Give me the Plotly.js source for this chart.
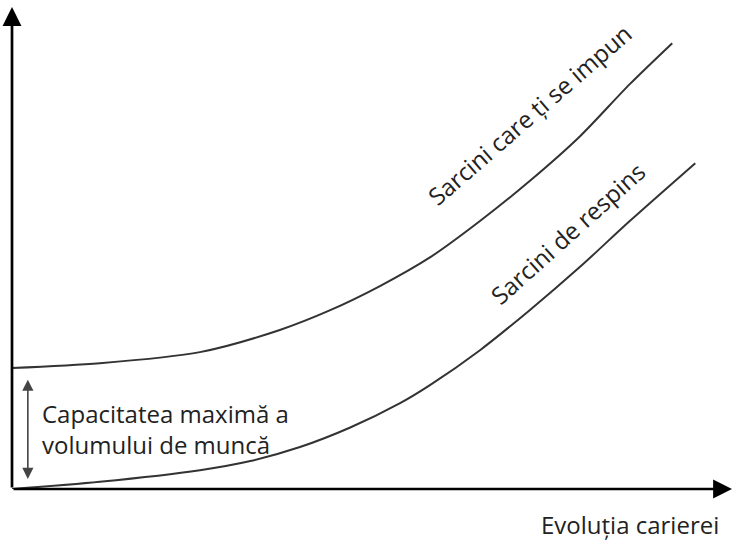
<!DOCTYPE html>
<html>
<head>
<meta charset="utf-8">
<script src="https://cdn.plot.ly/plotly-3.0.1.min.js"></script>
<style>html,body{margin:0;padding:0;background:#fff;}</style>
</head>
<body>
<div id="chart" style="width:733px;height:541px;"></div>
<script>
// Career evolution (x) vs. workload (y), arbitrary units 0-100
var upperX = [0, 12.2, 26.1, 37.2, 44.2, 51.1, 58.1, 65.0, 71.9, 78.9, 85.8, 91.7];
var upperY = [25.1, 26.1, 28.4, 33.0, 37.1, 42.1, 48.1, 55.6, 63.9, 73.2, 84.0, 92.5];
var lowerX = [0, 12.2, 26.1, 33.1, 40.0, 46.9, 53.9, 58.1, 65.0, 71.9, 78.9, 85.8, 94.9];
var lowerY = [0, 1.5, 3.9, 5.8, 8.7, 12.7, 17.8, 21.6, 28.8, 37.1, 46.1, 55.6, 67.6];
var upperLabel = "Sarcini care ți se impun";
var lowerLabel = "Sarcini de respins";
var capacityLabel = "Capacitatea maximă a<br>volumului de muncă";
var xLabel = "Evoluția carierei";

var FONT = '"Open Sans", "Noto Sans", sans-serif';
var lineStyle = {color: '#333333', width: 2, shape: 'spline', smoothing: 0.8};

var traces = [
  {x: upperX, y: upperY, mode: 'lines', line: lineStyle, hoverinfo: 'skip', name: upperLabel},
  {x: lowerX, y: lowerY, mode: 'lines', line: lineStyle, hoverinfo: 'skip', name: lowerLabel}
];

var layout = {
  width: 733, height: 541,
  margin: {l: 12, r: 1, t: 7, b: 52, pad: 0},
  paper_bgcolor: '#ffffff', plot_bgcolor: '#ffffff',
  showlegend: false,
  xaxis: {range: [0, 100], visible: false, fixedrange: true},
  yaxis: {range: [0, 100], visible: false, fixedrange: true},
  font: {family: FONT, color: '#222222'},
  annotations: [
    // y axis with arrow
    {x: 0, y: 100, ax: 0, ay: 0, axref: 'x', ayref: 'y', xref: 'x', yref: 'y',
     text: '', showarrow: true, arrowhead: 2, arrowsize: 1.4, arrowwidth: 2.7, arrowcolor: '#000'},
    // x axis with arrow
    {x: 100, y: 0, ax: 0, ay: 0, axref: 'x', ayref: 'y', xref: 'x', yref: 'y',
     text: '', showarrow: true, arrowhead: 2, arrowsize: 1.4, arrowwidth: 2.7, arrowcolor: '#000'},
    // capacity double arrow
    {x: 2.2, y: 2.1, ax: 2.2, ay: 23.0, axref: 'x', ayref: 'y', xref: 'x', yref: 'y',
     text: '', showarrow: true, arrowhead: 2, startarrowhead: 2, arrowside: 'end+start',
     arrowsize: 1.4, startarrowsize: 1.4, arrowwidth: 1.6, arrowcolor: '#444'},
    {x: 3.9, y: 12.4, xref: 'x', yref: 'y', xanchor: 'left', yanchor: 'middle', align: 'left',
     text: capacityLabel, showarrow: false, font: {family: FONT, size: 24, color: '#222'}},
    {x: 71.9, y: 77.6, xref: 'x', yref: 'y', text: upperLabel, textangle: -41, showarrow: false,
     font: {family: FONT, size: 24, color: '#222'}},
    {x: 77.1, y: 53.1, xref: 'x', yref: 'y', text: lowerLabel, textangle: -42, showarrow: false,
     font: {family: FONT, size: 24, color: '#222'}},
    {x: 0.985, y: -0.073, xref: 'paper', yref: 'paper', xanchor: 'right', yanchor: 'middle',
     text: xLabel, showarrow: false, font: {family: FONT, size: 24, color: '#222'}}
  ]
};

Plotly.newPlot('chart', traces, layout, {displayModeBar: false, staticPlot: true});
</script>
</body>
</html>
